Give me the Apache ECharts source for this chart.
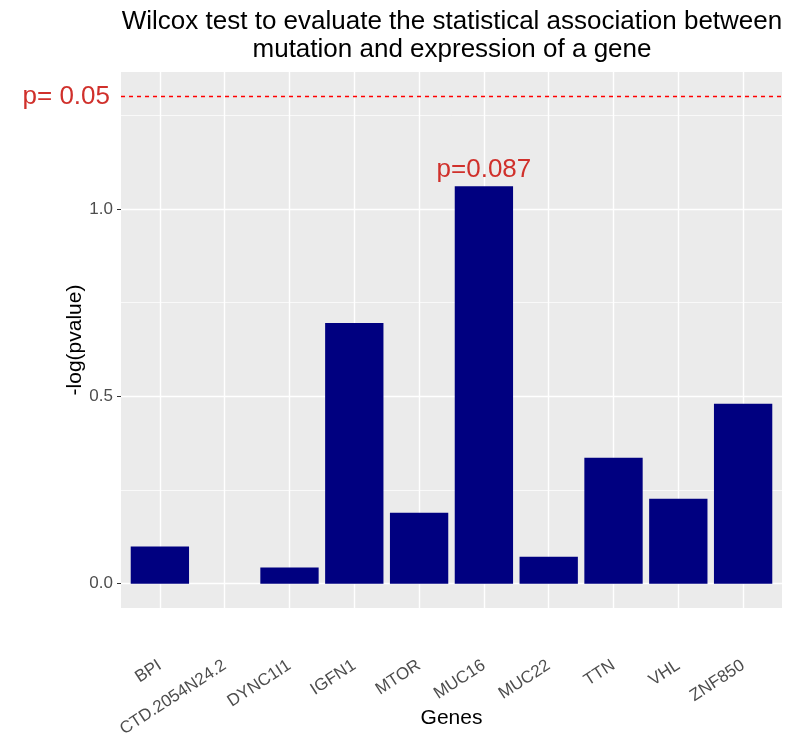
<!DOCTYPE html>
<html>
<head>
<meta charset="utf-8">
<script src="https://cdn.jsdelivr.net/npm/echarts@6/dist/echarts.min.js"></script>
<style>
  html, body { margin: 0; padding: 0; background: #fff; }
  #chart { width: 793px; height: 738px; }
</style>
</head>
<body>
<div id="chart"></div>
<script>
// genes on the x axis, -log10(p) as bar height
const genes = ["BPI", "CTD.2054N24.2", "DYNC1I1", "IGFN1", "MTOR", "MUC16", "MUC22", "TTN", "VHL", "ZNF850"];
const negLogP = [0.099, 0, 0.043, 0.696, 0.189, 1.061, 0.072, 0.336, 0.227, 0.48];
const barNotes = ["", "", "", "", "", "p=0.087", "", "", "", ""];
const yTicks = [0, 0.5, 1.0];
const yMinorTicks = [0.25, 0.75, 1.25];
const cutoff = 1.301;
const cutoffLabel = "p= 0.05";

const positions = genes.map((g, i) => i + 1);
const red = "#D0302B";
const font = "Liberation Sans";

const chart = echarts.init(document.getElementById("chart"), null, { renderer: "canvas" });

const gridLines = [
  ...positions.map((p) => ({ xAxis: p, lineStyle: { color: "#FFFFFF", width: 1.4 } })),
  ...yTicks.map((v) => ({ yAxis: v, lineStyle: { color: "#FFFFFF", width: 1.4 } })),
  ...yMinorTicks.map((v) => ({ yAxis: v, lineStyle: { color: "#FFFFFF", width: 0.7 } })),
];

const cutoffStyle = { color: "#FF0000", type: [4, 4], width: 1.3 };

const option = {
  animation: false,
  textStyle: { fontFamily: font },
  title: {
    text: "Wilcox test to evaluate the statistical association between\nmutation and expression of a gene",
    left: 447,
    top: 3,
    textAlign: "center",
    textStyle: { fontFamily: font, fontSize: 26, fontWeight: "normal", color: "#000", lineHeight: 28 },
  },
  grid: {
    left: 121, right: 11, top: 72, bottom: 130,
    containLabel: false, outerBoundsMode: "none",
    show: true, backgroundColor: "#EBEBEB", borderWidth: 0,
  },
  xAxis: {
    type: "value",
    min: 0.4,
    max: 10.6,
    name: "Genes",
    nameLocation: "middle",
    nameGap: 100,
    nameMoveOverlap: false,
    nameTextStyle: { fontFamily: font, fontSize: 21, color: "#000" },
    axisLine: { show: false },
    axisTick: { show: true, length: 4, customValues: positions, lineStyle: { color: "#333" } },
    axisLabel: {
      customValues: positions,
      formatter: (v) => genes[Math.round(v) - 1] || "",
      rotate: 33,
      margin: 56,
      fontSize: 17,
      color: "#4D4D4D",
    },
    splitLine: { show: false },
  },
  yAxis: {
    type: "value",
    min: -0.065,
    max: 1.366,
    splitNumber: 3,
    name: "-log(pvalue)",
    nameLocation: "middle",
    nameGap: 35,
    nameMoveOverlap: false,
    nameTextStyle: { fontFamily: font, fontSize: 21, color: "#000" },
    axisLine: { show: false },
    axisTick: { show: true, length: 4, customValues: yTicks, lineStyle: { color: "#333" } },
    axisLabel: {
      customValues: yTicks,
      formatter: (v) => (yTicks.includes(v) ? v.toFixed(1) : ""),
      margin: 8,
      fontSize: 17,
      color: "#4D4D4D",
    },
    splitLine: { show: false },
  },
  series: [
    {
      type: "line",
      data: [],
      silent: true,
      markLine: {
        z: 1,
        silent: true,
        symbol: "none",
        animation: false,
        label: { show: false },
        lineStyle: { color: "#FFFFFF", type: "solid" },
        data: gridLines,
      },
    },
    {
      type: "bar",
      barWidth: "90%",
      z: 3,
      itemStyle: { color: "#000080" },
      data: positions.map((p, i) => ({
        value: [p, negLogP[i]],
        label: barNotes[i]
          ? { show: true, position: "top", distance: 3, formatter: barNotes[i], fontSize: 26, color: red, fontFamily: font }
          : { show: false },
      })),
      markLine: {
        silent: true,
        symbol: "none",
        animation: false,
        lineStyle: cutoffStyle,
        label: { show: true, position: "start", distance: 11, formatter: cutoffLabel, fontSize: 26, color: red, fontFamily: font },
        data: [{ yAxis: cutoff, lineStyle: cutoffStyle }],
      },
    },
  ],
};

chart.setOption(option);
</script>
</body>
</html>
